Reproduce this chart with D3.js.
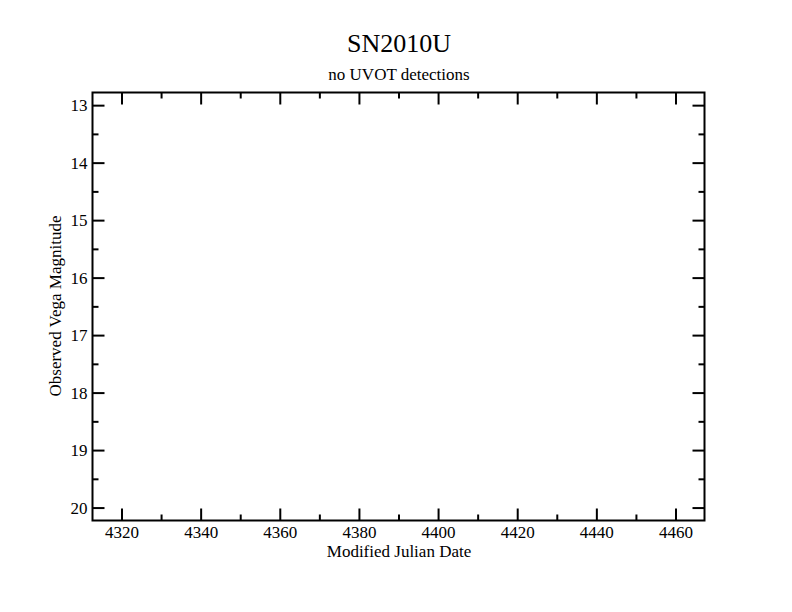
<!DOCTYPE html>
<html>
<head>
<meta charset="utf-8">
<script src="https://cdn.jsdelivr.net/npm/d3@7"></script>
<style>
  html, body { margin: 0; padding: 0; background: #fff; }
  svg text { font-family: "Liberation Serif", "Times New Roman", serif !important; fill: #000; }
</style>
</head>
<body>
<svg id="chart" width="792" height="612"></svg>
<script>
// Data (no detections: empty series)
const titleText = "SN2010U";
const subtitleText = "no UVOT detections";
const xLabel = "Modified Julian Date";
const yLabel = "Observed Vega Magnitude";
const xDomain = [4312.67, 4467.33];
const yDomain = [12.78, 20.225];
const xMajorTicks = [4320, 4340, 4360, 4380, 4400, 4420, 4440, 4460];
const xMinorTicks = [4330, 4350, 4370, 4390, 4410, 4430, 4450];
const yMajorTicks = [13, 14, 15, 16, 17, 18, 19, 20];
const yMinorTicks = [13.5, 14.5, 15.5, 16.5, 17.5, 18.5, 19.5];
const observations = []; // no UVOT detections

(function () {
const svg = d3.select("#chart");
const pL = 92.5, pR = 704.5, pT = 92.5, pB = 520.5;
const serif = '"Liberation Serif", "Times New Roman", serif';

const x = d3.scaleLinear().domain(xDomain).range([pL, pR]);
const y = d3.scaleLinear().domain(yDomain).range([pT, pB]);

const g = svg.append("g");

// Frame
g.append("rect")
  .attr("x", pL).attr("y", pT)
  .attr("width", pR - pL).attr("height", pB - pT)
  .attr("fill", "none").attr("stroke", "#000").attr("stroke-width", 2);

const major = 12, minor = 6;

function styleAxis(sel) {
  sel.attr("font-family", serif).attr("font-size", 17);
  sel.select(".domain").remove();
  sel.selectAll("line").attr("stroke", "#000").attr("stroke-width", 2);
  sel.selectAll("text").style("font-family", serif).style("font-size", "17px");
}

// Bottom axis (inward ticks)
const bAx = g.append("g").attr("transform", `translate(0,${pB})`)
  .call(d3.axisBottom(x).tickValues(xMajorTicks).tickSize(-major).tickPadding(0).tickFormat(d3.format("d")));
styleAxis(bAx);
bAx.selectAll("text").attr("dy", null).attr("y", 17.5);

styleAxis(g.append("g").attr("transform", `translate(0,${pB})`)
  .call(d3.axisBottom(x).tickValues(xMinorTicks).tickSize(-minor).tickFormat("")));

// Top axis
styleAxis(g.append("g").attr("transform", `translate(0,${pT})`)
  .call(d3.axisTop(x).tickValues(xMajorTicks).tickSize(-major).tickFormat("")));
styleAxis(g.append("g").attr("transform", `translate(0,${pT})`)
  .call(d3.axisTop(x).tickValues(xMinorTicks).tickSize(-minor).tickFormat("")));

// Left axis
const lAx = g.append("g").attr("transform", `translate(${pL},0)`)
  .call(d3.axisLeft(y).tickValues(yMajorTicks).tickSize(-major).tickPadding(0).tickFormat(d3.format("d")));
styleAxis(lAx);
lAx.selectAll("text").attr("x", -5).attr("dy", "0.33em");
styleAxis(g.append("g").attr("transform", `translate(${pL},0)`)
  .call(d3.axisLeft(y).tickValues(yMinorTicks).tickSize(-minor).tickFormat("")));

// Right axis
styleAxis(g.append("g").attr("transform", `translate(${pR},0)`)
  .call(d3.axisRight(y).tickValues(yMajorTicks).tickSize(-major).tickFormat("")));
styleAxis(g.append("g").attr("transform", `translate(${pR},0)`)
  .call(d3.axisRight(y).tickValues(yMinorTicks).tickSize(-minor).tickFormat("")));

// Data points (none)
g.selectAll("circle.obs").data(observations).enter().append("circle")
  .attr("class", "obs").attr("cx", d => x(d.mjd)).attr("cy", d => y(d.mag)).attr("r", 3);

// Titles
svg.append("text").attr("x", 399).attr("y", 52).attr("text-anchor", "middle")
  .attr("font-size", 26).text(titleText);
svg.append("text").attr("x", 399).attr("y", 80).attr("text-anchor", "middle")
  .attr("font-size", 17).text(subtitleText);
svg.append("text").attr("x", 399).attr("y", 557).attr("text-anchor", "middle")
  .attr("font-size", 17).text(xLabel);
svg.append("text").attr("transform", "translate(61,306) rotate(-90)").attr("text-anchor", "middle")
  .attr("font-size", 17).text(yLabel);
})();
</script>
</body>
</html>
